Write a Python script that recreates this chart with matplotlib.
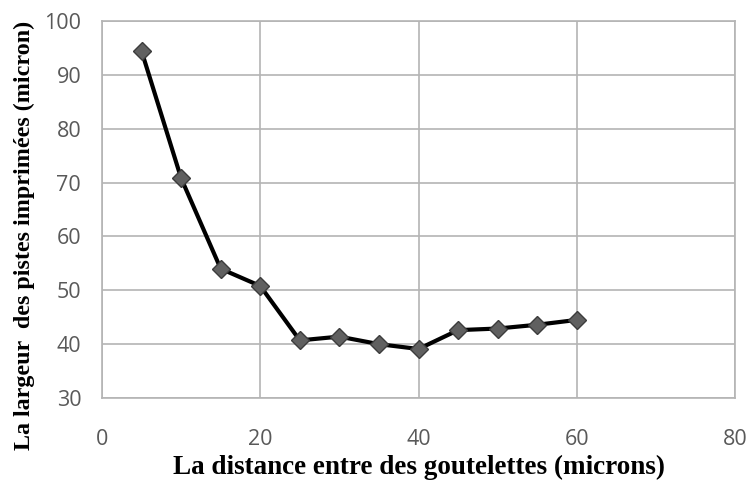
import matplotlib
matplotlib.use("Agg")
import matplotlib.pyplot as plt

# Droplet spacing (microns) and printed track width (microns)
distance = [5, 10, 15, 20, 25, 30, 35, 40, 45, 50, 55, 60]
largeur = [94.4, 70.8, 54.0, 50.8, 40.7, 41.4, 40.0, 39.1, 42.6, 42.9, 43.6, 44.5]

x_ticks = [0, 20, 40, 60, 80]
y_ticks = [30, 40, 50, 60, 70, 80, 90, 100]

fig = plt.figure(figsize=(7.48, 4.88), dpi=100)
ax = fig.add_axes([0.1364, 0.1844, 0.8462, 0.7726])

grid_color = "#b4b4b4"
ax.set_xlim(0, 80)
ax.set_ylim(30, 100)
ax.set_xticks(x_ticks)
ax.set_yticks(y_ticks)
ax.grid(True, color=grid_color, linewidth=1.2)
ax.set_axisbelow(True)
for s in ax.spines.values():
    s.set_color(grid_color)
    s.set_linewidth(1.2)
ax.tick_params(length=0, labelsize=15.5, labelcolor="#595959")
ax.tick_params(axis="x", pad=22)
ax.tick_params(axis="y", pad=15)
for lab in ax.get_xticklabels() + ax.get_yticklabels():
    lab.set_family("Open Sans")

ax.plot(distance, largeur, color="black", linewidth=3,
        marker="D", markersize=9.5, markerfacecolor="#606060",
        markeredgecolor="#3c3c3c", markeredgewidth=1)

ax.set_xlabel("La distance entre des goutelettes (microns)",
              family="Liberation Serif", fontweight="bold", fontsize=19.5, labelpad=4)
ax.set_ylabel("La largeur  des pistes imprimées (micron)",
              family="Liberation Serif", fontweight="bold", fontsize=17.3)
ax.yaxis.set_label_coords(-0.106, 0.432)

fig.savefig("out.png", dpi=100)
